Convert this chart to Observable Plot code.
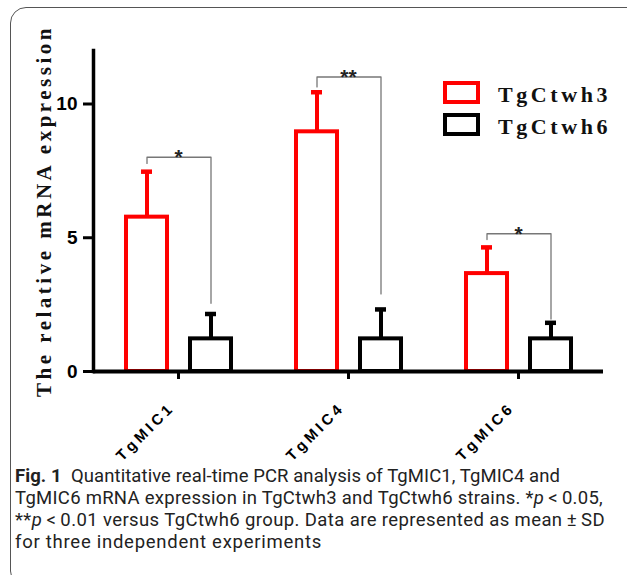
<!DOCTYPE html>
<html>
<head>
<meta charset="utf-8">
<script src="https://cdn.jsdelivr.net/npm/d3@7"></script>
<script src="https://cdn.jsdelivr.net/npm/@observablehq/plot@0.6"></script>
<style>
html, body { margin: 0; padding: 0; background: #fff; }
#wrap { position: relative; width: 627px; height: 575px; overflow: hidden; background: #fff; }
#border { position: absolute; left: 10px; top: 7px; width: 640px; height: 580px; border: 1.5px solid #555; border-radius: 16px; box-sizing: border-box; }
#chart { position: absolute; left: 0; top: 0; }
#ytitle { position: absolute; left: 44px; top: 211px; transform: translate(-50%, -50%) rotate(-90deg);
  font: bold 21px "Liberation Serif", "Times New Roman", serif; letter-spacing: 3.5px; white-space: nowrap; color: #111; }
.leg { position: absolute; left: 443px; height: 23px; width: 37px; box-sizing: border-box; border: 4.5px solid; }
.legtext { position: absolute; left: 498px; font: bold 22px/22px "Liberation Serif", "Times New Roman", serif; letter-spacing: 3.6px; white-space: nowrap; color: #111; }
.cap { position: absolute; left: 15px; font: 18.5px/22px Roboto, "Open Sans", sans-serif; color: #222; white-space: nowrap; }
.cap b { font-weight: 700; }
svg text[aria-label="gene label"], svg [aria-label="gene label"] text { letter-spacing: 3.5px; }
</style>
</head>
<body>
<div id="wrap">
  <div id="border"></div>
  <div id="chart"></div>
  <div id="ytitle">The relative mRNA expression</div>
  <div id="legend"></div>
  <div id="caption"></div>
</div>
<script>
// ---- data ----
const genes = ["TgMIC1", "TgMIC4", "TgMIC6"];
const strains = ["TgCtwh3", "TgCtwh6"];
const meanH3 = [5.77, 8.96, 3.66];
const sdH3 = [1.70, 1.48, 0.98];
const meanH6 = [1.22, 1.22, 1.22];
const sdH6 = [0.93, 1.10, 0.60];
const bracketTop = [8.01, 11.01, 5.15];
const bracketLeftEnd = [7.78, 10.64, 4.93];
const bracketRightEnd = [2.55, 2.90, 1.96];
const sigLabels = ["*", "**", "*"];
const yTicks = [0, 5, 10];
const strainColors = ["#ff0000", "#000000"];
const captionLines = [
  '<b>Fig. 1</b>&nbsp; Quantitative real-time PCR analysis of TgMIC1, TgMIC4 and',
  'TgMIC6 mRNA expression in TgCtwh3 and TgCtwh6 strains. *<i>p</i>\u2009<\u20090.05,',
  '**<i>p</i>\u2009<\u20090.01 versus TgCtwh6 group. Data are represented as mean\u2009±\u2009SD',
  'for three independent experiments'
];

// ---- tables ----
const barRows = genes.flatMap((g, i) => [
  {gene: g, strain: strains[0], mean: meanH3[i], sd: sdH3[i]},
  {gene: g, strain: strains[1], mean: meanH6[i], sd: sdH6[i]}
]);
const bracketRows = genes.flatMap((g, i) => [
  {gene: g, strain: strains[0], v: bracketLeftEnd[i]},
  {gene: g, strain: strains[0], v: bracketTop[i]},
  {gene: g, strain: strains[1], v: bracketTop[i]},
  {gene: g, strain: strains[1], v: bracketRightEnd[i]}
]);
const sigRows = genes.map((g, i) => ({gene: g, top: bracketTop[i], label: sigLabels[i]}));
const geneRows = genes.map(g => ({gene: g}));

const chart = Plot.plot({
  width: 627,
  height: 445,
  marginLeft: 92,
  marginRight: 24,
  marginTop: 50,
  marginBottom: 74,
  fx: {domain: genes, padding: 0},
  x: {domain: strains, paddingInner: 0.36, paddingOuter: 0.5, axis: null},
  y: {domain: [0, 12]},
  color: {domain: strains, range: strainColors},
  style: {fontFamily: "'Liberation Sans', Arial, sans-serif", background: "transparent", overflow: "visible", color: "#000"},
  marks: [
    Plot.barY(barRows, {fx: "gene", x: "strain", y: "mean", fill: "none", stroke: "strain", strokeWidth: 4}),
    Plot.ruleX(barRows, {fx: "gene", x: "strain", y1: "mean", y2: d => d.mean + d.sd, stroke: "strain", strokeWidth: 4}),
    Plot.tickY(barRows, {fx: "gene", x: "strain", y: d => d.mean + d.sd, stroke: "strain", strokeWidth: 4.5, insetLeft: 15, insetRight: 15}),
    Plot.line(bracketRows, {fx: "gene", x: "strain", y: "v", z: "gene", stroke: "#777", strokeWidth: 1.3}),
    Plot.text(sigRows, {fx: "gene", y: "top", text: "label", lineAnchor: "bottom", dy: 7, fontSize: 21, fontWeight: "bold", fill: "#222"}),
    Plot.ruleY([0], {stroke: "#000", strokeWidth: 4}),
    Plot.frame({anchor: "left", facetAnchor: "left", stroke: "#000", strokeWidth: 3.5}),
    Plot.axisY({ticks: yTicks, tickSize: 10, tickPadding: 6, strokeWidth: 3, fontSize: 19, fontWeight: "bold", label: null}),
    Plot.axisFx({anchor: "bottom", tickSize: 8, strokeWidth: 3, tickFormat: () => "", label: null}),
    Plot.text(geneRows, {fx: "gene", text: "gene", frameAnchor: "bottom", rotate: -45, textAnchor: "end", lineAnchor: "bottom",
      dx: -3, dy: 37, fontSize: 15, fontWeight: "bold", fill: "#000", ariaLabel: () => "gene label"})
  ]
});
document.getElementById("chart").appendChild(chart);

// ---- legend ----
const legend = document.getElementById("legend");
const legTops = [81, 113];
strains.forEach((s, i) => {
  const box = document.createElement("div");
  box.className = "leg";
  box.style.top = legTops[i] + "px";
  box.style.borderColor = strainColors[i];
  legend.appendChild(box);
  const t = document.createElement("div");
  t.className = "legtext";
  t.style.top = (legTops[i] + 3) + "px";
  t.textContent = s;
  legend.appendChild(t);
});

// ---- caption ----
const cap = document.getElementById("caption");
const capTops = [465, 487, 509, 531];
const capWidths = [545, 588, 590, 307];
captionLines.forEach((html, i) => {
  const d = document.createElement("div");
  d.className = "cap";
  d.style.top = capTops[i] + "px";
  d.innerHTML = html;
  cap.appendChild(d);
  const w = d.getBoundingClientRect().width;
  const n = d.textContent.length;
  d.style.letterSpacing = ((capWidths[i] - w) / n) + "px";
});
</script>
</body>
</html>
